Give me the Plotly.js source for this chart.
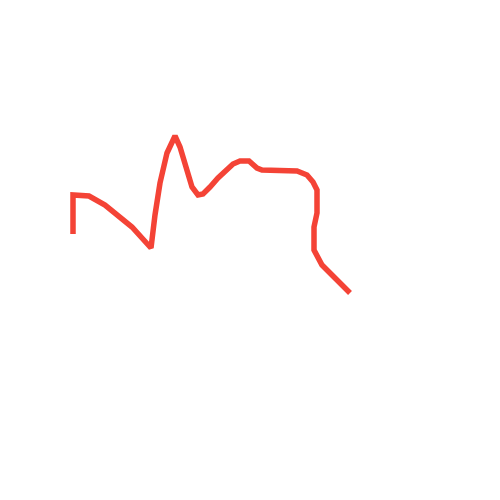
<!DOCTYPE html>
<html>
<head>
<meta charset="utf-8">
<script src="https://cdn.plot.ly/plotly-3.0.1.min.js"></script>
<style>
  html, body { margin: 0; padding: 0; background: #fff; }
  #chart { width: 500px; height: 500px; }
</style>
</head>
<body>
<div id="chart"></div>
<script>
// Values (y grows downward, axes hidden)
var xValues = [73, 73, 89, 105, 132, 151, 155, 160, 167, 175, 180, 186, 192, 198, 203, 210,
               218, 233, 240, 249, 257, 262, 285, 297, 307, 313, 317, 317, 314, 314, 322, 350];
var yValues = [234, 195, 196, 205, 227, 248, 215, 183, 153, 136, 147, 167, 187, 195, 194, 187,
               178, 164, 161, 161, 168, 170, 170, 171, 175, 182, 190, 213, 227, 250, 265, 293];

var lineColor = '#f44336';

var trace = {
    x: xValues,
    y: yValues,
    type: 'scatter',
    mode: 'lines',
    line: { color: lineColor, width: 5.5 },
    hoverinfo: 'skip'
};

var layout = {
    width: 500,
    height: 500,
    margin: { t: 0, r: 0, b: 0, l: 0 },
    paper_bgcolor: '#fff',
    plot_bgcolor: '#fff',
    showlegend: false,
    xaxis: { range: [0, 500], visible: false },
    yaxis: { range: [500, 0], visible: false }
};

Plotly.newPlot('chart', [trace], layout, { staticPlot: true, displayModeBar: false });
</script>
</body>
</html>
